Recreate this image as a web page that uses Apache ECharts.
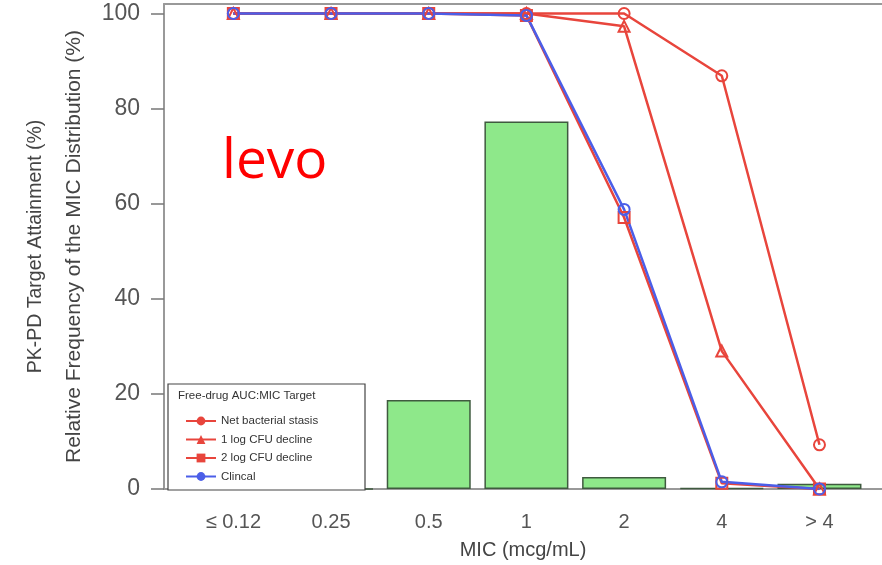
<!DOCTYPE html>
<html>
<head>
<meta charset="utf-8">
<script src="https://cdn.jsdelivr.net/npm/echarts@6/dist/echarts.min.js"></script>
<style>
html,body{margin:0;padding:0;background:#fff;}
#chart{width:882px;height:565px;}
</style>
</head>
<body>
<div id="chart"></div>
<script>
var categories = ['\u2264 0.12', '0.25', '0.5', '1', '2', '4', '> 4'];
var micFrequency = [0, 0, 18.7, 77.3, 2.5, 0.2, 1.1];
var netStasis = [100, 100, 100, 100, 100, 86.9, 9.3];
var oneLogDecline = [100, 100, 100, 100, 97.3, 29.0, 0];
var twoLogDecline = [100, 100, 100, 99.6, 57.1, 1.2, 0];
var clinical = [100, 100, 100, 99.6, 58.8, 1.5, 0];
var yTicks = [0, 20, 40, 60, 80, 100];

var RED = '#e8453c', BLUE = '#4b5ee8';
var FONT = 'Liberation Sans, Arial, sans-serif';

function pairs(arr){ return arr.map(function(v,i){ return [i, v]; }); }
function lineSeries(name, data, color, symbol){
  return {
    name: name, type: 'line', data: pairs(data), xAxisIndex: 0,
    symbol: symbol, symbolSize: 11,
    lineStyle: {color: color, width: 2.5},
    itemStyle: {color: 'rgba(255,255,255,0)', borderColor: color, borderWidth: 2},
    z: 3, animation: false
  };
}
var idx = categories.map(function(c,i){ return i; });

var chart = echarts.init(document.getElementById('chart'));
chart.setOption({
  backgroundColor: '#fff',
  animation: false,
  title: {
    text: 'levo', left: 217, top: 130,
    textStyle: {color: '#ff0000', fontSize: 55, fontWeight: 'normal', fontFamily: 'Open Sans, sans-serif'}
  },
  grid: {left: 164, right: 0, top: 4, bottom: 75},
  xAxis: [{
    type: 'value', min: -0.71, max: 6.64, position: 'bottom',
    splitLine: {show: false},
    axisLine: {show: true, onZero: false, lineStyle: {color: '#999', width: 2}},
    axisTick: {show: false},
    axisLabel: {
      customValues: idx, margin: 23, fontSize: 20, color: '#555', fontFamily: FONT,
      formatter: function(v){ return categories[Math.round(v)]; }
    },
    name: 'MIC (mcg/mL)', nameLocation: 'middle', nameGap: 51,
    nameTextStyle: {fontSize: 20, color: '#444', fontFamily: FONT}
  },{
    type: 'value', min: -0.71, max: 6.64, position: 'top',
    splitLine: {show: false},
    axisLine: {show: true, onZero: false, lineStyle: {color: '#999', width: 2}},
    axisTick: {show: false}, axisLabel: {show: false}
  }],
  yAxis: {
    type: 'value', min: 0, max: 102,
    splitLine: {show: false},
    axisLine: {show: true, onZero: false, lineStyle: {color: '#999', width: 2}},
    axisTick: {show: true, customValues: yTicks, length: 13, lineStyle: {color: '#777', width: 1.5}},
    axisLabel: {customValues: yTicks, margin: 24, fontSize: 23, color: '#555', fontFamily: FONT},
    name: '{a|PK-PD Target Attainment (%)}\n{b|Relative Frequency of the MIC Distribution (%)}',
    nameLocation: 'middle', nameRotate: 90, nameGap: 71,
    nameTextStyle: {
      fontSize: 19, color: '#444', fontFamily: FONT, align: 'center',
      rich: {
        a: {fontSize: 19.5, color: '#444', fontFamily: FONT, lineHeight: 38},
        b: {fontSize: 21, color: '#444', fontFamily: FONT, lineHeight: 38}
      }
    }
  },
  graphic: [
    {type: 'rect', z: 5, shape: {x: 168, y: 384, width: 197, height: 106},
     style: {fill: '#fff', stroke: '#444', lineWidth: 1.2}},
    {type: 'text', z: 6, left: 178, top: 390,
     style: {text: 'Free-drug AUC:MIC Target', fontSize: 11.5, fill: '#333', fontFamily: FONT}}
  ],
  legend: {
    orient: 'vertical', left: 180, top: 410, z: 7,
    itemWidth: 30, itemHeight: 11, itemGap: 6.5,
    textStyle: {fontSize: 11.5, color: '#333', fontFamily: FONT},
    data: [
      {name: 'Net bacterial stasis', itemStyle: {color: RED, borderWidth: 0}},
      {name: '1 log CFU decline', itemStyle: {color: RED, borderWidth: 0}},
      {name: '2 log CFU decline', itemStyle: {color: RED, borderWidth: 0}},
      {name: 'Clincal', itemStyle: {color: BLUE, borderWidth: 0}}
    ]
  },
  series: [
    {
      name: 'MIC distribution', type: 'bar', data: pairs(micFrequency), barWidth: 84,
      itemStyle: {color: '#8ee88a', borderColor: '#3f5a3f', borderWidth: 1.5},
      z: 1, animation: false
    },
    lineSeries('Net bacterial stasis', netStasis, RED, 'circle'),
    lineSeries('1 log CFU decline', oneLogDecline, RED, 'triangle'),
    lineSeries('2 log CFU decline', twoLogDecline, RED, 'rect'),
    lineSeries('Clincal', clinical, BLUE, 'circle')
  ]
});
</script>
</body>
</html>
